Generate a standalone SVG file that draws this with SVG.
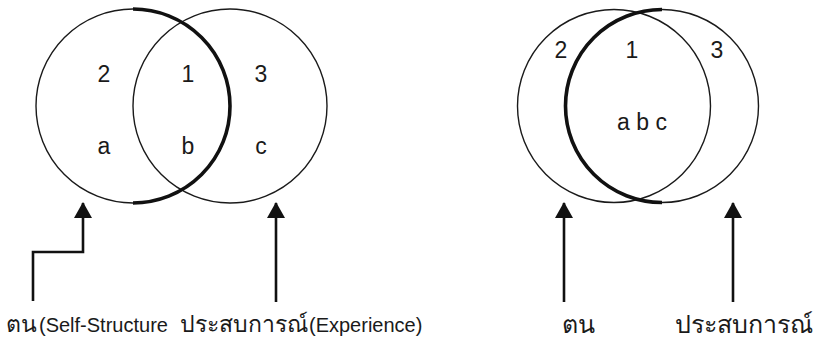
<svg xmlns="http://www.w3.org/2000/svg" width="816" height="341" viewBox="0 0 816 341">
<style>
.thin{fill:none;stroke:#1a1a1a;stroke-width:1.4}
.thick{fill:none;stroke:#111;stroke-width:3.6}
.lbl{font-family:"Liberation Sans",Arial,sans-serif;font-size:23px;fill:#1a1a1a;text-anchor:middle}
.en{font-family:"Liberation Sans",Arial,sans-serif;font-size:20px;fill:#1a1a1a}
.th{font-family:"Liberation Sans","Noto Sans",sans-serif;font-size:23px;fill:#1a1a1a}
.th2{font-family:"Liberation Sans","Noto Sans",sans-serif;font-size:25px;fill:#1a1a1a}
.arr{fill:none;stroke:#111;stroke-width:2.6}
</style>
<defs>
<marker id="ah" markerUnits="userSpaceOnUse" viewBox="0 0 16 18" markerWidth="16" markerHeight="18" refX="15" refY="9" orient="auto">
<path d="M0,0 L16,9 L0,18 Z" fill="#111"/>
</marker>
</defs>
<g id="venn-left">
<circle class="thin" cx="133" cy="106" r="97"/>
<circle class="thin" cx="230" cy="106" r="97"/>
<path class="thick" d="M133,9 A97,97 0 0 1 133,203"/>
<text class="lbl" x="104" y="82">2</text>
<text class="lbl" x="188" y="82">1</text>
<text class="lbl" x="261" y="82">3</text>
<text class="lbl" x="104" y="154">a</text>
<text class="lbl" x="188" y="154">b</text>
<text class="lbl" x="261" y="154">c</text>
</g>
<g id="venn-right">
<circle class="thin" cx="614" cy="106" r="96.5"/>
<circle class="thin" cx="662" cy="106" r="96.5"/>
<path class="thick" d="M662,9.5 A96.5,96.5 0 0 0 662,202.5"/>
<text class="lbl" x="561" y="58">2</text>
<text class="lbl" x="632" y="58">1</text>
<text class="lbl" x="717" y="58">3</text>
<text class="lbl" x="642" y="130">a b c</text>
</g>
<g id="connectors">
<path class="arr" d="M33,301 V252 H83 V203" marker-end="url(#ah)"/>
<path class="arr" d="M276,302 V203" marker-end="url(#ah)"/>
<path class="arr" d="M564,302 V203" marker-end="url(#ah)"/>
<path class="arr" d="M733,302 V203" marker-end="url(#ah)"/>
</g>
<g id="captions">
<text class="th" x="6" y="332">ตน</text>
<text class="en" x="39" y="332">(Self-Structure</text>
<text class="th" x="180" y="332">ประสบการณ์</text>
<text class="en" x="309" y="332">(Experience)</text>
<text class="th2" x="562" y="333">ตน</text>
<text class="th2" x="675" y="333">ประสบการณ์</text>
</g>
</svg>
